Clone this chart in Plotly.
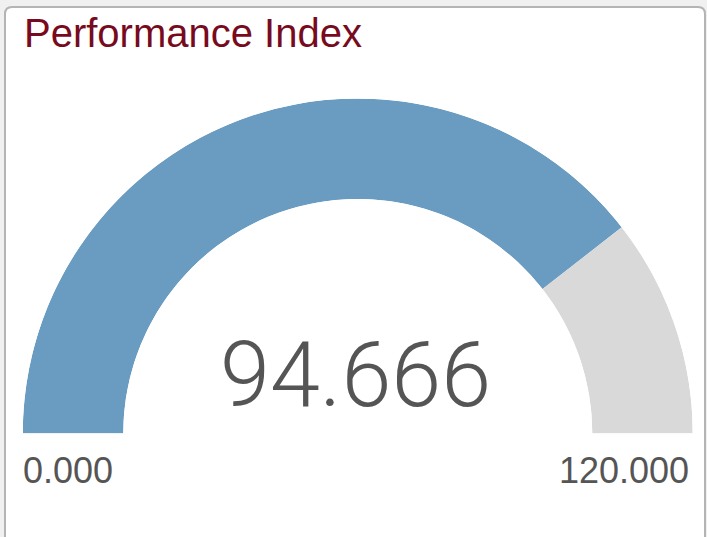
import plotly.graph_objects as go

# ---- data ----
title_text = "Performance Index"
gauge_min = 0.0
gauge_max = 120.0
gauge_value = 94.666
tick_labels = [f"{gauge_min:.3f}", f"{gauge_max:.3f}"]
segment_colors = ["#6a9bc1", "#d9d9d9"]

W, H = 707, 537

def px(x):
    return x / W

def py(y):
    return 1 - y / H

# derived gauge segments (degrees of a 180° sweep)
span = gauge_max - gauge_min
frac = (gauge_value - gauge_min) / span
seg_widths = [frac * 180, (1 - frac) * 180]
seg_centers = [seg_widths[0] / 2, seg_widths[0] + seg_widths[1] / 2]

fig = go.Figure()
fig.add_trace(go.Barpolar(
    r=[1, 1],
    theta=seg_centers,
    width=seg_widths,
    marker=dict(color=segment_colors, line=dict(width=0)),
    hoverinfo="skip",
    showlegend=False,
))

# card background with rounded corners
l, t, r, b, rad = 5, 7, 705, 560, 7
card_path = (
    f"M {px(l)},{py(t + rad)} "
    f"Q {px(l)},{py(t)} {px(l + rad)},{py(t)} "
    f"L {px(r - rad)},{py(t)} "
    f"Q {px(r)},{py(t)} {px(r)},{py(t + rad)} "
    f"L {px(r)},{py(b)} L {px(l)},{py(b)} Z"
)
fig.add_shape(type="path", xref="paper", yref="paper", path=card_path,
              fillcolor="white", line=dict(color="#b4b4b4", width=2), layer="below")

# title
fig.add_annotation(text=title_text, x=px(22), y=py(57), xref="paper", yref="paper",
                   xanchor="left", yanchor="bottom", showarrow=False,
                   font=dict(family="Liberation Sans, Arial", size=40, color="#780a1e"))

# value
fig.add_annotation(text=f"{gauge_value:.3f}", x=px(355), y=py(430), xref="paper", yref="paper",
                   xanchor="center", yanchor="bottom", showarrow=False,
                   font=dict(family="Roboto", weight=300, size=90, color="#555555"))

# end labels
fig.add_annotation(text=tick_labels[0], x=px(21), y=py(448), xref="paper", yref="paper",
                   xanchor="left", yanchor="top", showarrow=False,
                   font=dict(family="Liberation Sans, Arial", size=36, color="#555555"))
fig.add_annotation(text=tick_labels[1], x=px(691), y=py(448), xref="paper", yref="paper",
                   xanchor="right", yanchor="top", showarrow=False,
                   font=dict(family="Liberation Sans, Arial", size=36, color="#555555"))

fig.update_layout(
    width=W, height=H,
    margin=dict(l=0, r=0, t=0, b=0),
    paper_bgcolor="#f0f0f0",
    polar=dict(
        domain=dict(x=[px(22.5), px(693)], y=[py(433.5), py(98.5)]),
        sector=[0, 180],
        hole=0.70,
        bgcolor="rgba(0,0,0,0)",
        radialaxis=dict(visible=False, range=[0, 1], showgrid=False),
        angularaxis=dict(visible=False, rotation=180, direction="clockwise", showgrid=False),
    ),
)
fig.write_html("out.html",
               config=dict(displayModeBar=False),
               post_script="document.body.style.margin='0';document.body.style.padding='0';"
                           "document.body.style.overflow='hidden';")
